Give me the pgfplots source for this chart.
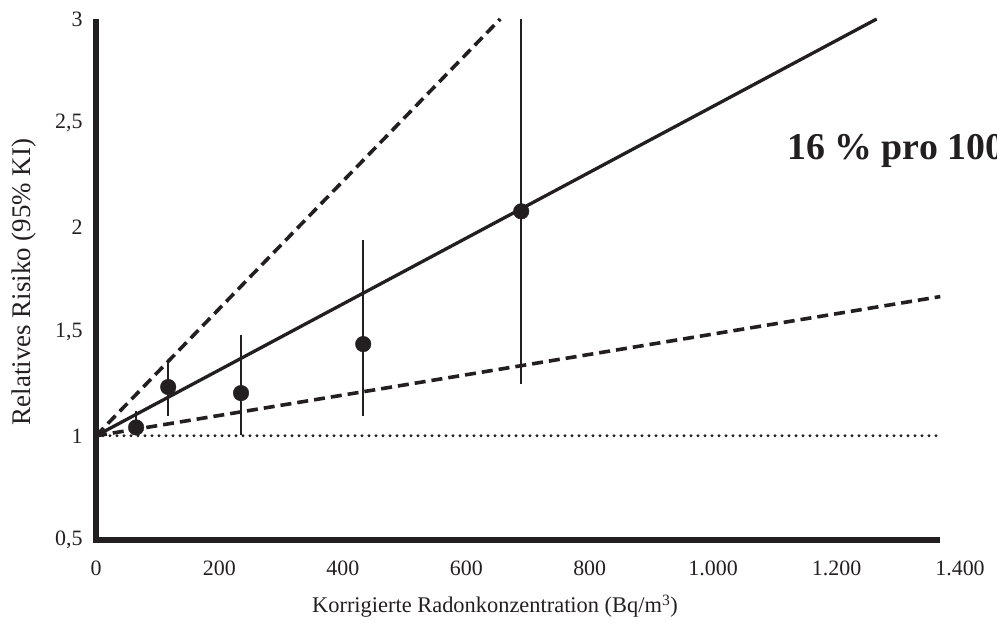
\documentclass[border=0pt]{standalone}
\usepackage{fontspec}
\setmainfont{Liberation Serif}
\usepackage{pgfplots}
\pgfplotsset{compat=1.18}
\definecolor{ink}{HTML}{231F20}
\begin{document}
\begin{tikzpicture}[x=1bp,y=1bp]
\begin{axis}[
  at={(0,0)}, anchor=south west,
  scale only axis, width=864bp, height=521bp,
  xmin=0, xmax=1400, ymin=0.5, ymax=3,
  axis line style={draw=none},
  major tick length=0pt,
  xtick={0,200,400,600,800,1000,1200,1400},
  xticklabels={0,200,400,600,800,{1.000},{1.200},{1.400}},
  ytick={0.5,1,1.5,2,2.5,3},
  yticklabels={{0,5},1,{1,5},2,{2,5},3},
  tick label style={font=\fontsize{22}{22}\selectfont, text=ink},
  xticklabel style={yshift=-17bp},
  yticklabel style={xshift=-10bp},
  clip=false,
]
% axis lines
\addplot[ink, line width=5.5bp, forget plot] coordinates {(0,3) (0,0.5) (1368,0.5)};
% reference line RR = 1
\addplot[ink, line width=3.2bp, line cap=round, dash pattern=on 0pt off 7bp] coordinates {(0,1) (1368,1)};
% upper and lower confidence limits
\addplot[ink, line width=3.6bp, dash pattern=on 11bp off 6bp] coordinates {(0,1) (655,3)};
\addplot[ink, line width=3.6bp, dash pattern=on 11bp off 6bp] coordinates {(0,1) (1368,1.668)};
% fitted line 16% per 100 Bq/m3
\addplot[ink, line width=3.3bp] coordinates {(0,1) (1265,3)};
% observed relative risks with 95% CI
\addplot[ink, only marks, mark=*, mark size=7.8bp, mark options={fill=ink, draw=ink},
  error bars/.cd, y dir=both, y explicit, error mark=none,
  error bar style={line width=2.2bp, ink}]
  coordinates {
    (65,1.04)   += (0,0.08)  -= (0,0.03)
    (117,1.234) += (0,0.123) -= (0,0.139)
    (235,1.205) += (0,0.277) -= (0,0.200)
    (433,1.44)  += (0,0.50)  -= (0,0.344)
    (689,2.077) += (0,0.923) -= (0,0.827)
  };
\end{axis}
\node[font=\fontsize{22.5}{22.5}\selectfont, text=ink] at (399,-66) {Korrigierte Radonkonzentration (Bq/m\textsuperscript{3})};
\node[font=\fontsize{27}{27}\selectfont, text=ink, rotate=90] at (-72,258) {Relatives Risiko (95\% KI)};
\node[font=\fontsize{38}{38}\selectfont\bfseries, text=ink, anchor=base west, inner sep=0pt] at (691,380) {16 \% pro 100};
\pgfresetboundingbox
\useasboundingbox (-96,-92) rectangle (901,540);
\end{tikzpicture}
\end{document}
